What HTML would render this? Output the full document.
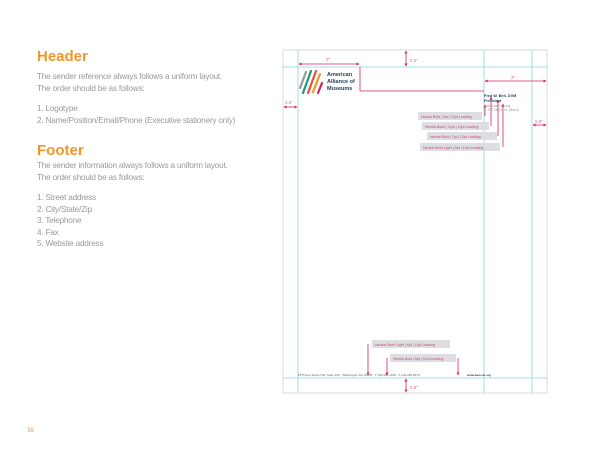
<!DOCTYPE html>
<html><head><style>
html,body{margin:0;padding:0;background:#fff;width:600px;height:463px;overflow:hidden;font-family:"Liberation Sans",sans-serif}
.t{position:absolute;left:37px;color:#999;font-size:8.2px;line-height:11.5px;letter-spacing:-0.2px}
h2{position:absolute;left:37px;margin:0;color:#f0962a;font-size:15px;font-weight:bold;line-height:18px}
</style></head><body>
<h2 style="top:48px">Header</h2>
<div class="t" style="top:71px">The sender reference always follows a uniform layout.<br>The order should be as follows:</div>
<div class="t" style="top:103px">1. Logotype<br>2. Name/Position/Email/Phone (Executive stationery only)</div>
<h2 style="top:142px">Footer</h2>
<div class="t" style="top:160px">The sender information always follows a uniform layout.<br>The order should be as follows:</div>
<div class="t" style="top:192px">1. Street address<br>2. City/State/Zip<br>3. Telephone<br>4. Fax<br>5. Website address</div>
<div style="position:absolute;left:27px;top:428px;color:#f0962a;font-size:6px">38</div>
<svg width="600" height="463" style="position:absolute;left:0;top:0" font-family="Liberation Sans">
<defs><marker id="a" viewBox="0 0 6 6" refX="5" refY="3" markerWidth="4" markerHeight="4" orient="auto-start-reverse"><path d="M0,0L6,3L0,6z" fill="#d6245f"/></marker></defs>
<rect x="283" y="50" width="264" height="343" fill="#fff" stroke="#e6e6e6" stroke-width="1.5"/>
<g stroke="#8fd3e6" stroke-width="0.8">
<line x1="298" y1="50" x2="298" y2="393"/><line x1="484" y1="50" x2="484" y2="393"/><line x1="532" y1="50" x2="532" y2="393"/>
<line x1="283" y1="67" x2="547" y2="67"/><line x1="283" y1="378" x2="547" y2="378"/>
</g>
<g stroke-width="2.2" stroke-linecap="round">
<line x1="300" y1="88" x2="306" y2="72" stroke="#999"/><line x1="303" y1="93" x2="311" y2="71" stroke="#1a9b7c"/>
<line x1="308" y1="93" x2="316" y2="71" stroke="#e84f3d"/><line x1="313" y1="92" x2="320" y2="74" stroke="#f0962a"/>
<line x1="318" y1="93" x2="322" y2="83" stroke="#d6245f"/>
</g>
<text x="327" y="76" font-size="5.5" font-weight="bold" fill="#1d3c5a">American</text>
<text x="327" y="83" font-size="5.5" font-weight="bold" fill="#1d3c5a">Alliance of</text>
<text x="327" y="90" font-size="5.5" font-weight="bold" fill="#1d3c5a">Museums</text>
<g stroke="#d6245f" stroke-width="0.8" fill="none">
<line x1="360" y1="67" x2="360" y2="91"/><line x1="360" y1="91" x2="484" y2="91"/>
<line x1="299" y1="64" x2="359" y2="64" marker-start="url(#a)" marker-end="url(#a)"/>
<line x1="406" y1="51" x2="406" y2="66" marker-start="url(#a)" marker-end="url(#a)"/>
<line x1="485" y1="81" x2="546" y2="81" marker-start="url(#a)" marker-end="url(#a)"/>
<line x1="284" y1="107" x2="297" y2="107" marker-start="url(#a)" marker-end="url(#a)"/>
<line x1="533" y1="125" x2="546" y2="125" marker-start="url(#a)" marker-end="url(#a)"/>
<line x1="406" y1="379" x2="406" y2="392" marker-start="url(#a)" marker-end="url(#a)"/>
<line x1="485" y1="116" x2="485" y2="105" marker-end="url(#a)"/>
<line x1="491" y1="126" x2="491" y2="97" marker-end="url(#a)"/>
<line x1="498" y1="136" x2="498" y2="100" marker-end="url(#a)"/>
<line x1="503" y1="147" x2="503" y2="104" marker-end="url(#a)"/>
<line x1="368" y1="375" x2="368" y2="344" marker-start="url(#a)"/>
<line x1="387" y1="375" x2="387" y2="358" marker-start="url(#a)"/>
<line x1="458" y1="375" x2="458" y2="358" marker-start="url(#a)"/>
</g>
<g fill="#dddde2">
<rect x="418" y="112" width="64" height="8"/><rect x="422" y="122" width="67" height="8"/>
<rect x="427" y="132" width="70" height="8"/><rect x="420" y="143" width="80" height="8"/>
<rect x="372" y="340" width="78" height="8"/><rect x="390" y="354" width="66" height="8"/>
</g>
<g font-size="3.6" fill="#c44a78">
<text x="421" y="118">Neutra Bold | 9pt | 12pt Leading</text>
<text x="425" y="128">Neutra Book | 11pt | 12pt Leading</text>
<text x="430" y="138">Neutra Bold | 7pt | 12pt Leading</text>
<text x="423" y="149">Neutra Semi Light | 9pt | 12pt Leading</text>
<text x="375" y="346">Neutra Semi Light | 8pt | 11pt Leading</text>
<text x="393" y="360">Neutra Bold | 8pt | 11pt Leading</text>
</g>
<text x="484" y="97" font-size="3.8" font-weight="bold" fill="#1d3c5a">Fred W. Bell, DVM</text>
<text x="484" y="102" font-size="3.8" font-weight="bold" fill="#1d3c5a">President</text>
<text x="484" y="107" font-size="3.3" fill="#999">fbell@aam-us.org</text>
<text x="484" y="111" font-size="3.3" fill="#999">T: 202.289.9101 (direct)</text>
<text x="298" y="376" font-size="3" fill="#666">1575 Eye Street NW, Suite 400  ·  Washington DC 20005  ·  T 202.289.1818  ·  F 202.289.6578  ·</text>
<text x="467" y="376" font-size="3" font-weight="bold" fill="#1d3c5a">www.aam-us.org</text>
<g font-size="4.5" fill="#d6245f" opacity="0.7">
<text x="326" y="61">2"</text><text x="410" y="62">0.5"</text><text x="511" y="79">2"</text>
<text x="285" y="104">0.5"</text><text x="535" y="123">0.5"</text><text x="410" y="389">0.5"</text>
</g>
</svg>
</body></html>
